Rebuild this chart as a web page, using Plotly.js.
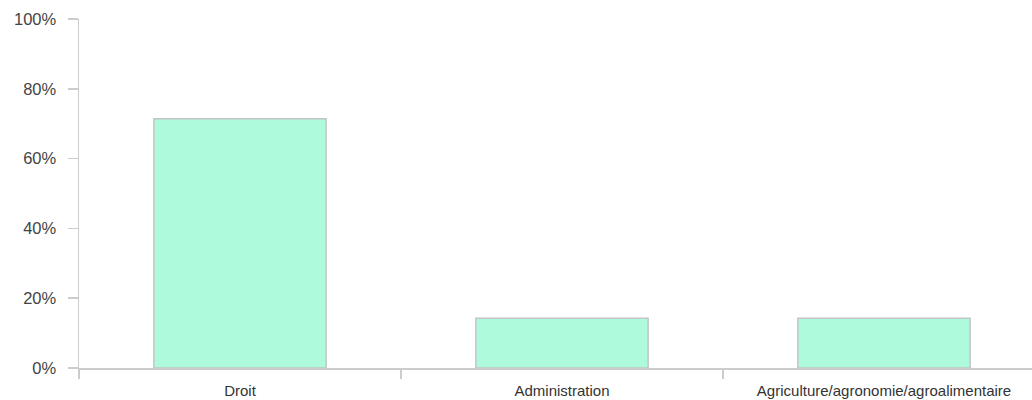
<!DOCTYPE html>
<html><head><meta charset="utf-8">
<script src="https://cdn.plot.ly/plotly-3.0.1.min.js"></script>
<style>html,body{margin:0;padding:0;background:#fff}#chart{width:1032px;height:400px}</style>
</head><body><div id="chart"></div>
<script>
const categories = ["Droit", "Administration", "Agriculture/agronomie/agroalimentaire"];
const values = [71.43, 14.29, 14.29];
const yTicks = [0, 20, 40, 60, 80, 100];
const yTickLabels = ["0%", "20%", "40%", "60%", "80%", "100%"];

const trace = {
  type: 'bar', x: categories, y: values, width: 0.535,
  marker: {color: '#adfbdc', line: {color: '#c4c4c4', width: 1.5}},
  hoverinfo: 'none'
};
const layout = {
  width: 1032, height: 400,
  margin: {l: 79, r: 0, t: 19, b: 32},
  paper_bgcolor: '#fff', plot_bgcolor: '#fff',
  showlegend: false,
  font: {family: 'Liberation Sans, Arial, sans-serif', color: '#444'},
  xaxis: {
    range: [-0.5, 2.5 - 13/322], showgrid: false, zeroline: false,
    showline: true, linecolor: '#cccccc', linewidth: 1.5,
    ticks: 'outside', tickson: 'boundaries', ticklen: 9, tickcolor: '#cccccc', tickwidth: 1.5,
    tickfont: {size: 15, color: '#333'}, ticklabelstandoff: 8, fixedrange: true
  },
  yaxis: {
    range: [0, 100], tickmode: 'array', tickvals: yTicks, ticktext: yTickLabels,
    showgrid: false, zeroline: false,
    showline: true, linecolor: '#cccccc', linewidth: 1.5,
    ticks: 'outside', ticklen: 10, tickcolor: '#cccccc', tickwidth: 1.5,
    tickfont: {size: 16.5, color: '#444'}, ticklabelstandoff: 8, fixedrange: true
  }
};
Plotly.newPlot('chart', [trace], layout, {displayModeBar: false, staticPlot: true});
</script></body></html>
